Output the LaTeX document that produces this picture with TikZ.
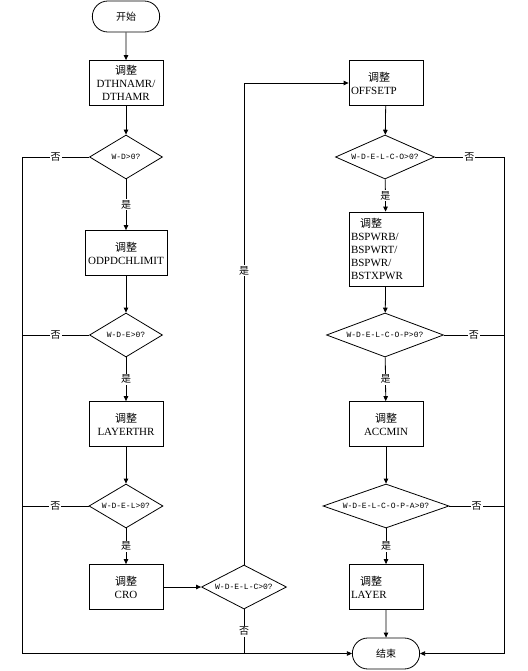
\documentclass[tikz,border=0pt]{standalone}
\usepackage{fontspec}
\setmainfont{Liberation Serif}
\newfontfamily\cjk{Noto Sans CJK SC}
\newfontfamily\condfont{Liberation Mono}
\usepackage{tikz}
\usetikzlibrary{
	arrows.meta,
	shapes.geometric,
	shapes.misc
}

\tikzset{
	term/.style={draw, rounded rectangle, minimum width=74pt, minimum height=31pt,
		font=\cjk\fontsize{10}{12}\selectfont},
	proc/.style={draw, rectangle, minimum width=74pt, minimum height=45pt,
		align=center, inner sep=1pt, font=\fontsize{11}{13}\selectfont},
	cond/.style={draw, diamond, aspect=2.8, inner sep=0pt, minimum height=44pt,
		minimum width=#1, font=\condfont\fontsize{8}{10}\selectfont},
	lbl/.style={fill=white, inner sep=1pt, font=\cjk\fontsize{10}{12}\selectfont}
}

\begin{document}
\begin{tikzpicture}[>={Triangle[length=5pt,width=4.5pt]}, x=1pt, y=-1pt, line width=0.8pt]
		
		\useasboundingbox (0,0) rectangle (527,671);
		
		% left column
		\node[term] (start) at (126,16.5) {开始};
		\node[proc] (dthamr) at (126,83) {{\cjk 调整}\\DTHNAMR/\\DTHAMR};
		\node[cond=73pt] (wd) at (126,157) {W-D>0?};
		\node[proc, minimum width=82pt] (odpd) at (126,253) {{\cjk 调整}\\ODPDCHLIMIT};
		\node[cond=73pt] (wde) at (126,335) {W-D-E>0?};
		\node[proc] (layerthr) at (126,424) {{\cjk 调整}\\LAYERTHR};
		\node[cond=74pt] (wdel) at (126,506) {W-D-E-L>0?};
		\node[proc] (cro) at (126,587) {{\cjk 调整}\\CRO};
		\node[cond=85pt] (wdelc) at (244,587) {W-D-E-L-C>0?};
		
		% right column
		\node[proc, text width=70pt, align=left] (offsetp) at (386,83)
		{\hspace{17pt}{\cjk 调整}\\OFFSETP};
		\node[cond=99pt] (wdelco) at (385,157) {W-D-E-L-C-O>0?};
		\node[proc, minimum height=74pt, text width=70pt, align=left] (bspwr) at (386,249)
		{\hspace{9pt}{\cjk 调整}\\BSPWRB/\\BSPWRT/\\BSPWR/\\BSTXPWR};
		\node[cond=117pt] (wdelcop) at (385,335) {W-D-E-L-C-O-P>0?};
		\node[proc] (accmin) at (386,424) {{\cjk 调整}\\ACCMIN};
		\node[cond=126pt] (wdelcopa) at (386,506) {W-D-E-L-C-O-P-A>0?};
		\node[proc, text width=70pt, align=left] (layer) at (386,587)
		{\hspace{9pt}{\cjk 调整}\\LAYER};
		\node[term] (end) at (386,653.5) {结束};
		
		\coordinate (lt) at (22,157);
		\coordinate (lb) at (22,653.5);
		\coordinate (rt) at (504,157);
		\coordinate (rb) at (504,653.5);
		
		% yes paths
		\draw[->] (start) -- (dthamr);
		\draw[->] (dthamr) -- (wd);
		\draw[->] (wd) -- node[lbl]{是} (odpd);
		\draw[->] (odpd) -- (wde);
		\draw[->] (wde) -- node[lbl]{是} (layerthr);
		\draw[->] (layerthr) -- (wdel);
		\draw[->] (wdel) -- node[lbl]{是} (cro);
		\draw[->] (cro) -- (wdelc);
		\draw[->] (wdelc.north) -- node[lbl, pos=0.61]{是} (wdelc.north |- offsetp.west) -- (offsetp.west);
		\draw[->] (offsetp) -- (wdelco);
		\draw[->] (wdelco) -- node[lbl]{是} (bspwr);
		\draw[->] (bspwr) -- (wdelcop);
		\draw[->] (wdelcop) -- node[lbl]{是} (accmin);
		\draw[->] (accmin) -- (wdelcopa);
		\draw[->] (wdelcopa) -- node[lbl]{是} (layer);
		\draw[->] (layer) -- (end);
		
		% no paths
		\draw[->] (wd.west) -- node[lbl]{否} (lt) -- (lb) -- (end.west);
		\draw (wde.west) -- node[lbl]{否} (wde.west -| lt);
		\draw (wdel.west) -- node[lbl]{否} (wdel.west -| lt);
		\draw (wdelc.south) -- node[lbl]{否} (wdelc.south |- lb);
		\draw[->] (wdelco.east) -- node[lbl]{否} (rt) -- (rb) -- (end.east);
		\draw (wdelcop.east) -- node[lbl]{否} (wdelcop.east -| rt);
		\draw (wdelcopa.east) -- node[lbl]{否} (wdelcopa.east -| rt);
		
\end{tikzpicture}
\end{document}
